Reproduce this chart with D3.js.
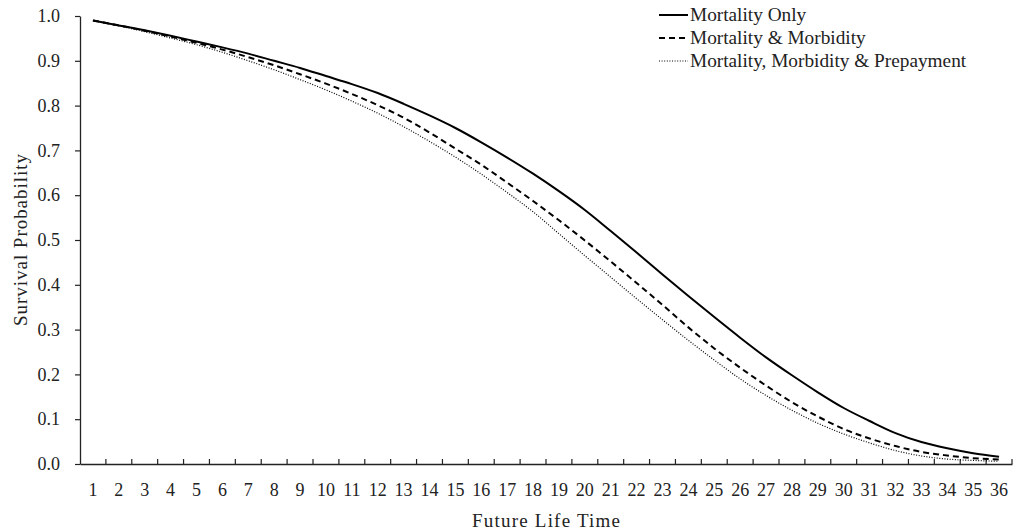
<!DOCTYPE html>
<html>
<head>
<meta charset="utf-8">
<script src="https://cdn.jsdelivr.net/npm/d3@7"></script>
<style>
  html, body { margin: 0; padding: 0; background: #fff; }
  svg { display: block; }
  svg text { font-family: "Liberation Serif", "Times New Roman", "DejaVu Serif", serif !important; fill: #222; }
</style>
</head>
<body>
<svg id="chart" width="1013" height="532"></svg>
<script>
const categories = d3.range(1, 37).map(String);
const yTicks = [0, 0.1, 0.2, 0.3, 0.4, 0.5, 0.6, 0.7, 0.8, 0.9, 1.0];
const seriesNames = ["Mortality Only", "Mortality & Morbidity", "Mortality, Morbidity & Prepayment"];
const mortalityOnly = [0.990, 0.979, 0.968, 0.956, 0.943, 0.930, 0.916, 0.900, 0.884, 0.866,
  0.848, 0.828, 0.804, 0.778, 0.750, 0.718, 0.684, 0.648, 0.609, 0.567,
  0.520, 0.472, 0.423, 0.375, 0.328, 0.282, 0.238, 0.198, 0.160, 0.125,
  0.096, 0.069, 0.049, 0.035, 0.024, 0.016];
const mortalityMorbidity = [0.990, 0.979, 0.967, 0.954, 0.940, 0.925, 0.908, 0.890, 0.870, 0.849,
  0.826, 0.801, 0.773, 0.740, 0.704, 0.668, 0.628, 0.587, 0.544, 0.499,
  0.452, 0.404, 0.355, 0.305, 0.258, 0.215, 0.175, 0.138, 0.106, 0.078,
  0.057, 0.040, 0.027, 0.019, 0.013, 0.010];
const mortalityMorbidityPrepay = [0.990, 0.978, 0.965, 0.951, 0.936, 0.919, 0.900, 0.880, 0.858, 0.835,
  0.810, 0.783, 0.753, 0.720, 0.685, 0.647, 0.606, 0.563, 0.514, 0.465,
  0.417, 0.369, 0.322, 0.276, 0.232, 0.190, 0.153, 0.120, 0.091, 0.067,
  0.047, 0.030, 0.018, 0.011, 0.008, 0.006];

const seriesValues = [mortalityOnly, mortalityMorbidity, mortalityMorbidityPrepay];
const styles = [
  { width: 2, dash: null },
  { width: 2, dash: "6,4" },
  { width: 1.2, dash: "1,1.6" }
];

const svg = d3.select("#chart");
const mLeft = 80, mRight = 1012, mTop = 16, mBottom = 464;
const FONT = '"Liberation Serif", "Times New Roman", serif';

const x = d3.scaleBand().domain(categories).range([mLeft, mRight]).padding(0);
const y = d3.scaleLinear().domain([0, 1]).range([mBottom, mTop]);

// Y axis
const yAxis = svg.append("g").attr("transform", `translate(${mLeft},0)`)
  .call(d3.axisLeft(y).tickValues(yTicks).tickFormat(d3.format(".1f")).tickSize(5).tickSizeOuter(0));
yAxis.attr("font-family", FONT);
yAxis.select(".domain").attr("stroke", "#222").attr("stroke-width", 1.3);
yAxis.selectAll(".tick line").attr("stroke", "#222").attr("stroke-width", 1.2);
yAxis.selectAll(".tick text").attr("x", -20).style("font-size", "18px").attr("fill", "#222");

// X axis: ticks at band boundaries, pointing up
const xAxis = svg.append("g").attr("transform", `translate(0,${mBottom})`)
  .call(d3.axisBottom(x).tickSize(0).tickSizeOuter(0));
xAxis.attr("font-family", FONT);
xAxis.select(".domain").attr("stroke", "#222").attr("stroke-width", 1.3);
xAxis.selectAll(".tick text").attr("y", 19).style("font-size", "18px").attr("fill", "#222");
const boundaries = categories.map(c => x(c) + x.bandwidth());
svg.append("g").selectAll("line").data(boundaries).join("line")
  .attr("x1", d => d).attr("x2", d => d)
  .attr("y1", mBottom).attr("y2", mBottom - 5)
  .attr("stroke", "#222").attr("stroke-width", 1.2);

// Lines
const line = d3.line()
  .x((d, i) => x(categories[i]) + x.bandwidth() / 2)
  .y(d => y(d))
  .curve(d3.curveMonotoneX);

seriesValues.forEach((vals, k) => {
  svg.append("path").datum(vals)
    .attr("d", line)
    .attr("fill", "none")
    .attr("stroke", "#000")
    .attr("stroke-width", styles[k].width)
    .attr("stroke-dasharray", styles[k].dash);
});

// Axis titles
svg.append("text").attr("x", (mLeft + mRight) / 2).attr("y", 527)
  .attr("text-anchor", "middle").attr("font-family", FONT).style("font-size", "19px")
  .attr("textLength", 148).attr("lengthAdjust", "spacing").text("Future Life Time");
svg.append("text").attr("transform", `translate(27,${(mTop + mBottom) / 2}) rotate(-90)`)
  .attr("text-anchor", "middle").attr("font-family", FONT).style("font-size", "19px")
  .attr("textLength", 172).attr("lengthAdjust", "spacing").text("Survival Probability");

// Legend
const legend = svg.append("g");
seriesNames.forEach((name, k) => {
  const ly = 15 + k * 23;
  legend.append("line").attr("x1", 659).attr("x2", 688).attr("y1", ly).attr("y2", ly)
    .attr("stroke", "#000").attr("stroke-width", styles[k].width)
    .attr("stroke-dasharray", styles[k].dash);
  legend.append("text").attr("x", 690).attr("y", ly + 6)
    .attr("font-family", FONT).style("font-size", "19.3px").text(name);
});
</script>
</body>
</html>
